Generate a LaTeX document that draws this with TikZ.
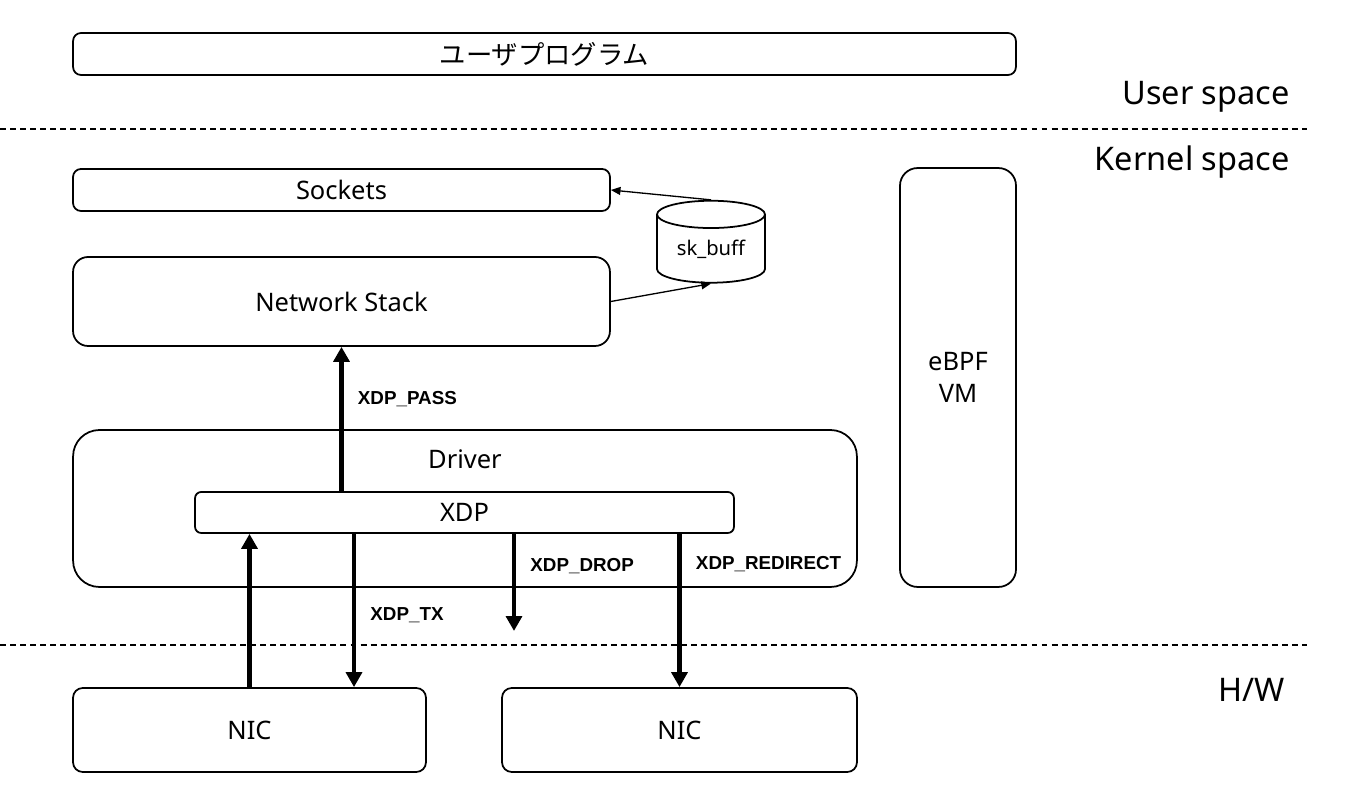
\documentclass[tikz,border=0pt]{standalone}
\usepackage{fontspec}
\setmainfont{Noto Sans}
\newfontfamily\jpfont{Noto Sans CJK JP}
\newfontfamily\lblfont{Liberation Sans}
\usetikzlibrary{arrows.meta, positioning, shapes.geometric}

\begin{document}
\begin{tikzpicture}[
  x=0.02cm, y=-0.02cm,
  every node/.style={font=\fontsize{14.5}{18.5}\selectfont, align=center},
  box/.style={draw, line width=1pt, rounded corners=4.5pt, inner sep=0pt},
  layer/.style={font=\fontsize{18.5}{22}\selectfont, anchor=east, inner sep=0pt},
  lbl/.style={font=\fontsize{10.7}{13}\selectfont\lblfont\bfseries, anchor=west, inner sep=0pt, xshift=0.28cm},
  thickarr/.style={-{Triangle[length=8.5pt, width=9pt]}, line width=2.8pt},
  thinarr/.style={-{Triangle[length=5.5pt, width=4.5pt]}, line width=0.75pt},
  spaceline/.style={line width=0.7pt, dash pattern=on 3.4pt off 2.3pt}
]
  \useasboundingbox (0,0) rectangle (1347,803);

  % Space borders
  \draw[spaceline] (0,129) -- (1307,129);
  \draw[spaceline] (0,645) -- (1307,645);
  \node[layer] (userlbl) at (1290,97) {User space};
  \node[layer] (kernlbl) at (1290,162) {Kernel space};
  \node[layer] (hwlbl) at (1285,690) {H/W};

  % Boxes
  \node[box, minimum width=18.86cm, minimum height=0.84cm, font=\fontsize{15}{18}\selectfont\jpfont] (userprog) at (544.5,54) {ユーザプログラム};
  \node[box, minimum width=10.74cm, minimum height=0.84cm] (sockets) at (341.5,190) {Sockets};
  \node[box, rounded corners=8.5pt, minimum width=10.74cm, minimum height=1.78cm] (netstack) at (341.5,301.5) {Network Stack};
  \node[draw, line width=1pt, cylinder, shape border rotate=90, aspect=0.4,
        minimum width=2.16cm, minimum height=1.64cm, inner sep=0pt,
        font=\fontsize{11.5}{14}\selectfont] (skbuff) at (711,249) {sk\_buff};
  \node[box, rounded corners=10pt, minimum width=2.32cm, minimum height=8.38cm] (ebpf) at (958,377.5) {eBPF\\VM};
  \node[box, rounded corners=15pt, minimum width=15.68cm, minimum height=3.14cm,
        label={[anchor=center, yshift=-0.6cm]north:Driver}] (driver) at (465,508.5) {};
  \node[box, rounded corners=3.5pt, minimum width=10.78cm, minimum height=0.82cm] (xdp) at (464.5,512.5) {XDP};
  \node[box, rounded corners=5.5pt, minimum width=7.06cm, minimum height=1.68cm] (nicA) at (249.5,730) {NIC};
  \node[box, rounded corners=5.5pt, minimum width=7.1cm, minimum height=1.68cm] (nicB) at (679.5,730) {NIC};

  % sk_buff path
  \draw[thinarr] (netstack.east) -- (skbuff.south);
  \draw[thinarr] (skbuff.north) -- (sockets.east);

  % XDP actions
  \coordinate (txx) at (354,0);
  \coordinate (dropend) at (514,631);
  \draw[thickarr] (xdp.north -| netstack.south) -- node[lbl, pos=0.64] (passlbl) {XDP\_PASS} (netstack.south);
  \draw[thickarr] (nicA.north) -- (nicA.north |- xdp.south);
  \draw[thickarr] (xdp.south -| txx) -- node[lbl, pos=0.53] (txlbl) {XDP\_TX} (nicA.north -| txx);
  \draw[thickarr] (xdp.south -| dropend) -- node[lbl, pos=0.33] (droplbl) {XDP\_DROP} (dropend);
  \draw[thickarr] (xdp.south -| nicB.north) -- node[lbl, pos=0.2] (redirlbl) {XDP\_REDIRECT} (nicB.north);

\end{tikzpicture}
\end{document}
